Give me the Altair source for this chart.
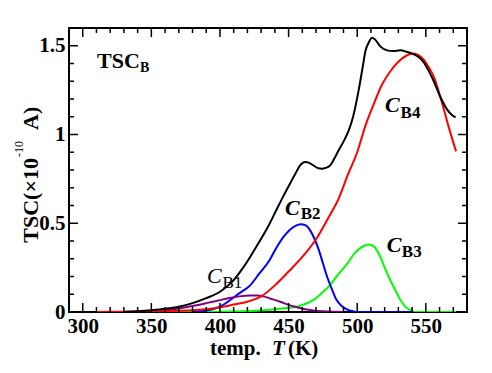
import altair as alt
import pandas as pd

# ---------------- data ----------------
# C_B4 (red)
red_T = [310, 330, 350, 370, 380, 390, 400, 410, 420, 430, 440, 450, 460, 470, 480, 486, 493, 500, 506, 512,
         518, 524, 530, 536, 540, 544, 548.5, 552, 556, 561, 566, 572]
red_v = [0.0, 0.002, 0.004, 0.007, 0.01, 0.016, 0.027, 0.042, 0.058, 0.088, 0.15, 0.228, 0.31, 0.41, 0.545, 0.63,
         0.77, 0.9, 1.05, 1.17, 1.28, 1.355, 1.41, 1.445, 1.456, 1.45, 1.422, 1.38, 1.322, 1.2, 1.06, 0.905]

# total TSC (black)
black_T = [330, 340, 350, 360, 370, 380, 390, 400, 410, 416, 422, 429, 435, 441, 446, 451, 455, 458.4, 462, 465,
           468, 471, 474.3, 477, 480.3, 483, 486.4, 490, 493.7, 497, 501, 504, 506, 508.5, 510.8, 513, 517, 521.8,
           526, 531.5, 536, 541, 545, 548.5, 552, 555.8, 560.7, 565.6, 569, 571.7]
black_v = [0.0, 0.004, 0.01, 0.018, 0.03, 0.05, 0.078, 0.114, 0.18, 0.24, 0.31, 0.40, 0.48, 0.573, 0.65, 0.723,
           0.78, 0.826, 0.845, 0.84, 0.826, 0.812, 0.807, 0.812, 0.826, 0.86, 0.91, 0.96, 1.02, 1.10, 1.247, 1.38,
           1.47, 1.52, 1.545, 1.535, 1.495, 1.474, 1.47, 1.474, 1.466, 1.453, 1.435, 1.406, 1.36, 1.30, 1.21, 1.14,
           1.11, 1.097]

# C_B2 (blue)
blue_T = [380, 390, 400, 407, 414, 422, 429, 436, 441, 446, 451, 455, 459, 462, 465.7, 469, 472, 475, 478, 481.5,
          485, 488.5, 492.5, 497, 500, 541]
blue_v = [0.0, 0.008, 0.03, 0.065, 0.105, 0.15, 0.22, 0.29, 0.36, 0.42, 0.463, 0.485, 0.494, 0.49, 0.46, 0.41,
          0.35, 0.275, 0.20, 0.13, 0.067, 0.035, 0.015, 0.004, 0.0, 0.0]

# C_B3 (green)
green_T = [363, 400, 420, 432, 445, 456, 462, 468, 474, 480, 486, 492.5, 498, 504.7, 508.5, 512, 516.9, 520, 524,
           528, 531.5, 535, 538.8, 542, 572]
green_v = [0.0, 0.002, 0.005, 0.01, 0.02, 0.03, 0.045, 0.067, 0.105, 0.15, 0.21, 0.27, 0.33, 0.372, 0.38, 0.37,
           0.31, 0.25, 0.18, 0.12, 0.067, 0.03, 0.01, 0.0, 0.0]

# C_B1 (purple)
purple_T = [340, 350, 360, 370, 380, 390, 400, 407, 414, 421.8, 427, 431.6, 437, 443.8, 450, 456, 462, 468, 475,
            482, 490]
purple_v = [0.0, 0.004, 0.01, 0.02, 0.034, 0.05, 0.067, 0.079, 0.088, 0.093, 0.093, 0.088, 0.075, 0.058, 0.04,
            0.027, 0.016, 0.009, 0.004, 0.001, 0.0]

# ticks
x_major = [300, 350, 400, 450, 500, 550]
x_minor = [t for t in range(290, 581, 10) if t not in x_major]
y_major = [0, 0.5, 1, 1.5]
y_minor = [0.1, 0.2, 0.3, 0.4, 0.6, 0.7, 0.8, 0.9, 1.1, 1.2, 1.3, 1.4]

# curve labels (C + subscript)
lab_C_T = [390.6, 447.4, 521.5, 520.3]
lab_C_v = [0.163, 0.546, 0.338, 1.127]
lab_sub_T = [401.8, 458.8, 532.5, 531.6]
lab_sub_v = [0.135, 0.524, 0.310, 1.093]
lab_sub = ["B1", "B2", "B3", "B4"]

# ---------------- chart ----------------
W, H = 398, 284
FONT = "Liberation Serif"
xs = alt.Scale(domain=[290, 580], nice=False, zero=False)
ys = alt.Scale(domain=[0, 1.6], nice=False, zero=False)
XAX = alt.Axis(values=x_major, ticks=False, domain=False, grid=False, labelPadding=3,
               title=None, format="d", labelFont=FONT, labelFontSize=21, labelFontWeight="bold",
               labelColor="black")
YAX = alt.Axis(values=y_major, ticks=False, domain=False, grid=False, labelPadding=4,
               title=None, format="~g", labelFont=FONT, labelFontSize=21, labelFontWeight="bold",
               labelColor="black")


def X(field):
    return alt.X(field, scale=xs, axis=XAX)


def Y(field):
    return alt.Y(field, scale=ys, axis=YAX)


def curve(T, v, color):
    df = pd.DataFrame({"T": T, "v": v})
    return alt.Chart(df).mark_line(color=color, strokeWidth=2, interpolate="monotone", clip=True).encode(
        x=X("T:Q"), y=Y("v:Q"))


def xticks(vals, length):
    df = pd.DataFrame({"T": vals})
    base = alt.Chart(df).mark_tick(color="black", thickness=1.5, size=length, orient="vertical", opacity=1)
    bottom = base.encode(x=X("T:Q"), y=alt.value(H - length / 2))
    top = base.encode(x=X("T:Q"), y=alt.value(length / 2))
    return [bottom, top]


def yticks(vals, length):
    df = pd.DataFrame({"v": vals})
    base = alt.Chart(df).mark_tick(color="black", thickness=1.5, size=length, orient="horizontal", opacity=1)
    left = base.encode(y=Y("v:Q"), x=alt.value(length / 2))
    right = base.encode(y=Y("v:Q"), x=alt.value(W - length / 2))
    return [left, right]


def ptext(s, x, y, size, weight="bold", style="normal", angle=0, align="left"):
    return alt.Chart(pd.DataFrame({"s": [s]})).mark_text(
        font=FONT, fontSize=size, fontWeight=weight, fontStyle=style, angle=angle, align=align,
        baseline="alphabetic", color="black").encode(x=alt.value(x), y=alt.value(y), text="s:N")


def dtext(T, v, s, size, weight, style):
    df = pd.DataFrame({"T": T, "v": v, "s": s})
    return alt.Chart(df).mark_text(font=FONT, fontSize=size, fontWeight=weight, fontStyle=style, align="left",
                                   baseline="alphabetic", color="black").encode(
        x=X("T:Q"), y=Y("v:Q"), text="s:N")


layers = [
    curve(green_T, green_v, "#00ff00"),
    curve(blue_T, blue_v, "#0000ff"),
    curve(purple_T, purple_v, "#800080"),
    curve(red_T, red_v, "#ff0000"),
    curve(black_T, black_v, "#000000"),
]
layers += xticks(x_major, 9) + xticks(x_minor, 5) + yticks(y_major, 9) + yticks(y_minor, 5)

# curve labels
layers.append(dtext(lab_C_T[1:], lab_C_v[1:], ["C"] * 3, 22, "bold", "italic"))
layers.append(dtext(lab_sub_T[1:], lab_sub_v[1:], lab_sub[1:], 17, "bold", "normal"))
layers.append(dtext(lab_C_T[:1], lab_C_v[:1], ["C"], 22, "normal", "italic"))
layers.append(dtext(lab_sub_T[:1], lab_sub_v[:1], lab_sub[:1], 17, "normal", "normal"))

# panel title TSC_B
layers.append(ptext("TSC", 28, 40, 22))
layers.append(ptext("B", 71, 44, 14))

# x axis title: temp. T (K)
layers.append(ptext("temp.", 141, 327, 21))
layers.append(ptext("T", 203, 327, 21, style="italic"))
layers.append(ptext("(K)", 219, 327, 21))

# y axis title: TSC(×10^-10 A)
layers.append(ptext("TSC(×10", -31, 130, 22, angle=270, align="right"))
layers.append(ptext("-10", -46, 129, 12, weight="normal", angle=270))
layers.append(ptext("A)", -31, 102, 22, angle=270))

chart = alt.layer(*layers).properties(
    width=W, height=H,
    autosize=alt.AutoSizeParams(type="none"),
    padding={"left": 61, "top": 20, "right": 15, "bottom": 50},
).configure_view(stroke="black", strokeWidth=2)

chart.save("out.html", embed_options={"renderer": "svg", "actions": False})
